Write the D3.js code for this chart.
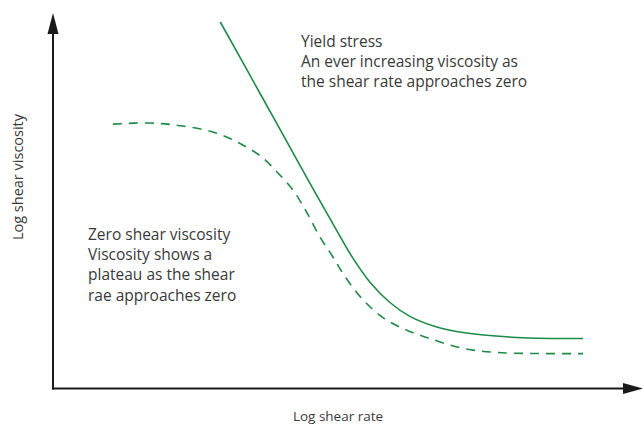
<!DOCTYPE html>
<html>
<head>
<meta charset="utf-8">
<script src="https://cdn.jsdelivr.net/npm/d3@7"></script>
<style>
  body { margin: 0; background: #fff; }
  text { font-family: "Open Sans", "Noto Sans", sans-serif; fill: #3a3a3a; }
</style>
</head>
<body>
<div id="chart"></div>
<script>
// yield stress curve (solid), in log shear rate / log viscosity units
var yieldX = [2.85, 3.58, 4.29, 4.89, 5.09, 5.40, 5.74, 6.08, 6.51, 6.98, 7.90, 9.03];
var yieldY = [9.76, 7.71, 5.71, 4.05, 3.52, 2.83, 2.29, 1.92, 1.65, 1.49, 1.36, 1.33];

// zero shear viscosity curve (dashed)
var zeroX = [1.02, 1.65, 2.21, 2.79, 3.24, 3.56, 3.82, 4.09, 4.33, 4.55, 4.75, 4.97, 5.26, 5.62, 6.03, 6.42, 6.98, 7.56, 8.30, 9.03];
var zeroY = [7.04, 7.07, 6.99, 6.80, 6.48, 6.16, 5.76, 5.28, 4.67, 4.03, 3.55, 2.99, 2.40, 1.89, 1.55, 1.33, 1.07, 0.96, 0.93, 0.93];

var yieldLabel = ["Yield stress", "An ever increasing viscosity as", "the shear rate approaches zero"];
var zeroLabel = ["Zero shear viscosity", "Viscosity shows a", "plateau as the shear", "rae approaches zero"];

var width = 644, height = 427;
var green = "#1e8a47";
var ink = "#1a1a1a";

var svg = d3.select("#chart").append("svg")
	.attr("width", width).attr("height", height);

var xScale = d3.scaleLinear().domain([0, 10]).range([53, 640]);
var yScale = d3.scaleLinear().domain([0, 10]).range([388.5, 13]);

var line = d3.line()
	.x(function(d) { return xScale(d[0]); })
	.y(function(d) { return yScale(d[1]); })
	.curve(d3.curveCatmullRom);

// curves
svg.append("path")
	.attr("d", line(d3.zip(yieldX, yieldY)))
	.attr("fill", "none")
	.attr("stroke", green)
	.attr("stroke-width", 1.6);

svg.append("path")
	.attr("d", line(d3.zip(zeroX, zeroY)))
	.attr("fill", "none")
	.attr("stroke", green)
	.attr("stroke-width", 1.6)
	.attr("stroke-dasharray", "9,7");

// axes with arrow heads
var x0 = xScale(0), y0 = yScale(0);
var xEnd = xScale(10) + 3, yEnd = yScale(10);
svg.append("line")
	.attr("x1", x0).attr("y1", y0 + 1)
	.attr("x2", x0).attr("y2", yEnd + 18)
	.attr("stroke", ink).attr("stroke-width", 2);
svg.append("line")
	.attr("x1", x0 - 1).attr("y1", y0)
	.attr("x2", xEnd - 18).attr("y2", y0)
	.attr("stroke", ink).attr("stroke-width", 2);

svg.append("path")
	.attr("d", "M" + x0 + "," + yEnd + "l-5.5,21h11z")
	.attr("fill", ink);
svg.append("path")
	.attr("d", "M" + xEnd + "," + y0 + "l-20,-5.5v11z")
	.attr("fill", ink);

// axis titles
svg.append("text")
	.attr("x", 338).attr("y", 421)
	.attr("text-anchor", "middle")
	.style("font-size", "13.5px")
	.text("Log shear rate");

svg.append("text")
	.attr("transform", "translate(23,177) rotate(-90)")
	.attr("text-anchor", "middle")
	.style("font-size", "14.5px")
	.text("Log shear viscosity");

// annotations, one text per line
svg.selectAll("text.yield")
	.data(yieldLabel)
	.enter().append("text")
	.attr("class", "yield")
	.style("font-size", "15.5px")
	.attr("x", 301)
	.attr("y", function(d, i) { return 47 + i * 20; })
	.text(function(d) { return d; });

svg.selectAll("text.zero")
	.data(zeroLabel)
	.enter().append("text")
	.attr("class", "zero")
	.style("font-size", "15.5px")
	.attr("x", 88)
	.attr("y", function(d, i) { return 240 + i * 20.2; })
	.text(function(d) { return d; });
</script>
</body>
</html>
